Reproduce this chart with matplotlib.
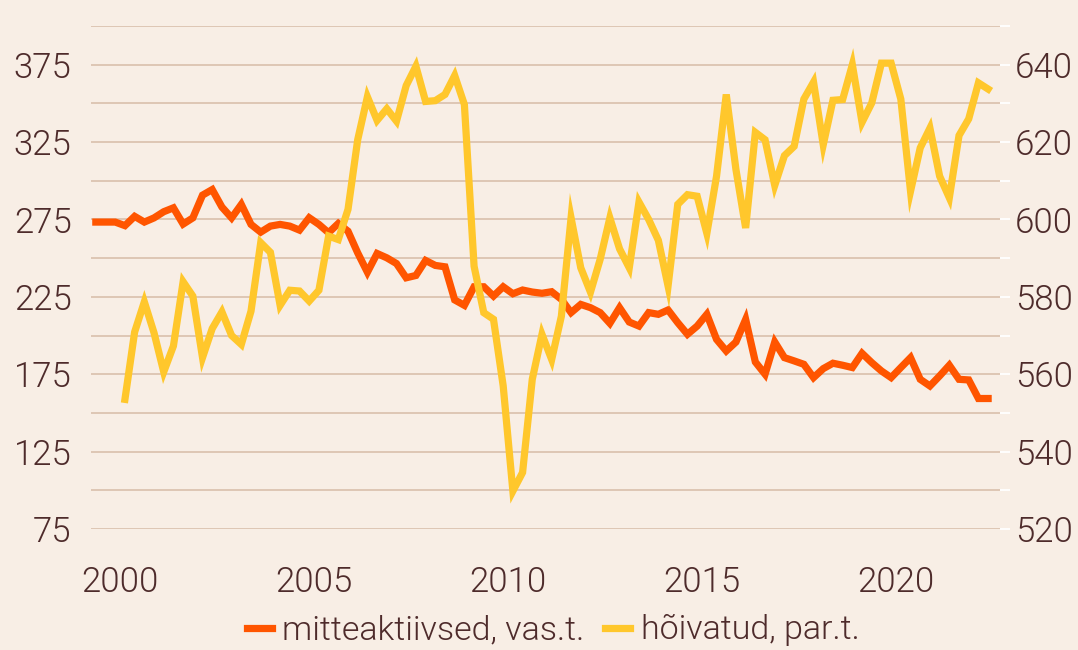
import numpy as np
import pandas as pd
import matplotlib
matplotlib.use("Agg")
import matplotlib.pyplot as plt

# Quarterly data, thousands
quarters = pd.period_range("1999Q2", "2022Q2", freq="Q")

# mitteaktiivsed (left axis), 1999Q2..2022Q2
inactive = [273.3, 273.3, 273.3, 271.0, 277.0, 273.3, 276.0, 280.0, 282.5, 272.0, 276.0, 290.7, 294.3, 283.0, 276.0, 284.7,
            271.8, 266.8, 270.7, 271.8, 270.7, 268.1, 276.1, 271.8, 266.4, 272.4, 267.4, 253.4, 240.9, 253.0, 250.2,
            246.5, 237.3, 238.8, 248.5, 245.3, 244.4, 223.0, 219.5, 231.5, 231.5, 225.5, 231.5, 227.0, 229.4, 228.1, 227.3,
            228.3, 223.4, 214.8, 220.1, 218.0, 214.8, 207.9, 218.0, 208.7, 206.1, 214.8, 213.7, 216.5, 208.3, 200.8,
            206.1, 213.7, 197.5, 190.0, 195.8, 210.4, 182.9, 175.0, 195.8, 185.7, 183.6, 181.4, 172.8, 178.6, 182.1, 180.8,
            179.3, 188.5, 182.5, 177.1, 172.8, 179.3, 185.7, 171.7, 167.4, 173.9, 180.8, 171.7, 171.3, 159.3, 159.3]

# hõivatud (right axis), 2000Q1..2022Q2
employed = [553.5, 570.9, 578.7, 570.7, 560.6, 567.3, 583.9, 580.2, 564.3, 571.8, 576.1, 570.0, 567.7,
            576.3, 594.0, 591.5, 577.8, 581.7, 581.5, 578.9, 581.7, 595.7, 594.8, 602.6, 620.6, 631.7, 625.6, 628.6,
            625.4, 634.6, 639.6, 630.5, 630.7, 632.3, 637.2, 629.7, 587.9, 575.9, 574.2, 557.0, 529.8, 534.6, 558.7, 570.3,
            563.8, 575.0, 600.4, 587.5, 581.2, 589.7, 600.4, 592.4, 587.5, 604.5, 600.0, 594.6, 582.8, 603.9, 606.4,
            606.0, 596.4, 611.2, 632.3, 612.9, 597.8, 622.5, 620.6, 608.8, 616.5, 618.9, 631.1, 635.5, 619.3, 630.8, 631.0,
            640.0, 625.1, 630.1, 640.4, 640.4, 631.1, 607.3, 618.5, 623.6, 611.2, 605.6, 621.7, 626.0, 635.3, 633.7]

labels = ["mitteaktiivsed, vas.t.", "hõivatud, par.t."]
x_years = [2000, 2005, 2010, 2015, 2020]

bg = "#F8EEE5"
grid_c = "#DCC3B0"
text_c = "#4E2B2B"
orange = "#FF5500"
yellow = "#FFC72C"

# Roboto Light (weight 300)
plt.rcParams["font.family"] = ["Roboto", "DejaVu Sans"]
plt.rcParams["font.weight"] = 300

x_all = np.array([p.year + (p.quarter - 0.5) / 4 for p in quarters])
x_emp = x_all[len(inactive) - len(employed):]

fig = plt.figure(figsize=(10.78, 6.5), dpi=100, facecolor=bg)
ax = fig.add_axes([0.0844, 0.1862, 0.8432, 0.7738])
ax.set_facecolor(bg)
ax2 = ax.twinx()

l1, = ax.plot(x_all, inactive, color=orange, lw=5.2, solid_joinstyle="miter", zorder=3, label=labels[0])
l2, = ax2.plot(x_emp, employed, color=yellow, lw=5.2, solid_joinstyle="miter", zorder=3, label=labels[1])

ax.set_xlim(1999.25, 2022.68)
ax.set_ylim(75, 400)
ax2.set_ylim(520, 650)

# left axis: gridlines every 25, labels every 50
left_ticks = np.arange(75, 401, 25)
ax.set_yticks(left_ticks)
ax.set_yticklabels([str(t) if (t - 75) % 50 == 0 else "" for t in left_ticks])
ax.grid(axis="y", color=grid_c, lw=1.3)
ax.set_axisbelow(True)

right_ticks = np.arange(520, 651, 10)
ax2.set_yticks(right_ticks)
ax2.set_yticklabels([str(t) if (t - 520) % 20 == 0 else "" for t in right_ticks])

ax.set_xticks(x_years)
ax.set_xticklabels([str(y) for y in x_years])

for a in (ax, ax2):
    for s in a.spines.values():
        s.set_visible(False)
ax.tick_params(axis="y", length=0, pad=14, labelsize=25, labelcolor=text_c)
ax.tick_params(axis="x", length=0, pad=26, labelsize=25, labelcolor=text_c)
ax2.tick_params(axis="y", length=7, width=1.3, color="#FFFFFF", pad=4, labelsize=25, labelcolor=text_c)

leg = fig.legend(handles=[l1, l2], loc="center", bbox_to_anchor=(553 / 1078, 0.03), ncol=2,
                 frameon=False, fontsize=24.5, labelcolor=text_c, handlelength=0.75,
                 handletextpad=0.3, columnspacing=0.6)

fig.savefig("out.png", dpi=100, facecolor=bg)
